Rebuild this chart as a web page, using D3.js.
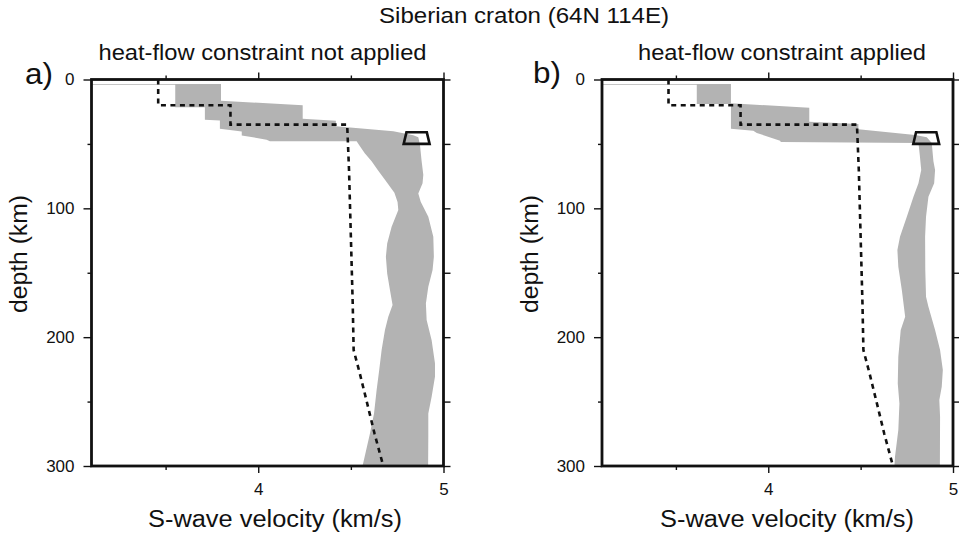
<!DOCTYPE html>
<html><head><meta charset="utf-8">
<script src="https://cdn.jsdelivr.net/npm/d3@7"></script>
<style>html,body{margin:0;padding:0;background:#fff;} svg{display:block;}</style>
</head><body><svg id="chart" width="959" height="538"></svg>
<script>
// ---------- data ----------
const mainTitle = "Siberian craton (64N 114E)";
const panelLetters = ["a)", "b)"];
const panelSubtitles = ["heat-flow constraint not applied", "heat-flow constraint applied"];
const xAxisTitle = "S-wave velocity (km/s)";
const yAxisTitle = "depth (km)";

const velDomain = [3.1, 5.0];
const depthDomain = [0, 300];
const depthLabelTicks = [0, 100, 200, 300];
const depthMinorTicks = [50, 150, 250];
const depthRightTicks = [0, 50, 100, 150, 200, 250, 300];
const velLabelTicks = [4, 5];
const velMinorTicks = [3.5, 4.5];

// reference model (dashed)
const refDepth = [0, 20, 20, 35, 35, 70, 122, 174, 210, 228, 249, 275, 300];
const refVel   = [3.46, 3.46, 3.85, 3.85, 4.48, 4.49, 4.50, 4.51, 4.515, 4.548, 4.584, 4.628, 4.675];

// constraint box
const boxDepth = [41, 41, 50, 50];
const boxVel   = [4.80, 4.91, 4.925, 4.785];

// panel a band
const bandALeftDepth = [3.5, 4.1, 4.1, 21.6, 21.6, 31.2, 31.8, 38.2, 40.3, 43.4, 46.7, 48, 48, 51.9, 57.2, 63.5, 70.3, 78, 88, 95, 101.3, 114.3, 127.2, 137.6, 150.5, 163.4, 175.1, 184.2, 194.5, 210, 225.5, 241, 259.2, 274.7, 300];
const bandALeftVel   = [3.10, 3.10, 3.552, 3.552, 3.712, 3.712, 3.793, 3.793, 3.911, 3.911, 4.045, 4.063, 4.531, 4.549, 4.575, 4.612, 4.645, 4.685, 4.735, 4.752, 4.756, 4.720, 4.696, 4.689, 4.696, 4.711, 4.725, 4.702, 4.684, 4.666, 4.653, 4.639, 4.625, 4.603, 4.563];
const bandARightDepth = [3.5, 16.5, 20.0, 30.4, 32.0, 36.3, 40.2, 43.3, 44.9, 50.6, 63.5, 73.9, 80.6, 88.4, 94.9, 106.5, 122, 137.6, 147.9, 160.9, 173.8, 186.7, 202.3, 220.3, 230.7, 246.3, 259.2, 277.3, 300];
const bandARightVel   = [3.799, 3.799, 4.240, 4.240, 4.419, 4.419, 4.729, 4.837, 4.864, 4.873, 4.882, 4.891, 4.887, 4.864, 4.877, 4.918, 4.945, 4.948, 4.941, 4.918, 4.905, 4.909, 4.936, 4.954, 4.954, 4.936, 4.918, 4.918, 4.917];

// panel b band
const bandBLeftDepth = [3.5, 4.1, 4.1, 19.0, 19.0, 38.2, 39.7, 41.5, 47.5, 48.5, 49.3, 58.4, 70.3, 80.6, 91, 106.5, 122, 132.4, 145.3, 163.4, 184.2, 194.5, 215.2, 235.9, 251.4, 272.1, 292.9, 300];
const bandBLeftVel   = [3.10, 3.10, 3.613, 3.613, 3.798, 3.798, 3.919, 3.938, 4.064, 4.068, 4.813, 4.820, 4.828, 4.813, 4.786, 4.750, 4.713, 4.699, 4.704, 4.723, 4.741, 4.717, 4.704, 4.701, 4.710, 4.704, 4.686, 4.683];
const bandBRightDepth = [3.5, 18.5, 22.0, 32.7, 34.5, 38.6, 43.1, 44.9, 49.3, 63.5, 70.3, 80.6, 91, 106.5, 122, 147.9, 168.6, 176.4, 194.5, 210, 225.5, 238.5, 248.8, 261.8, 300];
const bandBRightVel   = [3.798, 3.798, 4.222, 4.222, 4.488, 4.488, 4.795, 4.858, 4.885, 4.894, 4.903, 4.898, 4.867, 4.854, 4.849, 4.850, 4.854, 4.867, 4.903, 4.930, 4.945, 4.939, 4.926, 4.930, 4.929];

// ---------- layout ----------
const FONT = "'Liberation Sans', Arial, Helvetica, sans-serif";
const INK = "#111";
const BAND = "#b3b3b3";
const plotTop = 79.5, plotBottom = 466;

const panels = [
  { x0: 91.5, x1: 443.5, letterX: 25, letterY: 84, subX: 262.5, subLen: 328, xlabX: 275, ylabX: 27,
    leftD: bandALeftDepth, leftV: bandALeftVel, rightD: bandARightDepth, rightV: bandARightVel },
  { x0: 602, x1: 953, letterX: 533, letterY: 83, subX: 782, subLen: 288, xlabX: 787, ylabX: 538,
    leftD: bandBLeftDepth, leftV: bandBLeftVel, rightD: bandBRightDepth, rightV: bandBRightVel }
];

const svg = d3.select("#chart");
svg.append("rect").attr("width", 959).attr("height", 538).attr("fill", "#fff");

svg.append("text").text(mainTitle)
  .attr("x", 524).attr("y", 23).attr("text-anchor", "middle")
  .attr("font-family", FONT).attr("font-size", 22).attr("fill", INK)
  .attr("textLength", 290).attr("lengthAdjust", "spacingAndGlyphs");

panels.forEach((p, i) => {
  const x = d3.scaleLinear().domain(velDomain).range([p.x0, p.x1]);
  const y = d3.scaleLinear().domain(depthDomain).range([plotTop, plotBottom]);
  const g = svg.append("g");
  const clipId = "clip" + i;
  svg.append("clipPath").attr("id", clipId).append("rect")
    .attr("x", p.x0).attr("y", plotTop).attr("width", p.x1 - p.x0).attr("height", plotBottom - plotTop);

  // band polygon
  const leftPts = p.leftD.map((d, k) => [x(p.leftV[k]), y(d)]);
  const rightPts = p.rightD.map((d, k) => [x(p.rightV[k]), y(d)]).reverse();
  g.append("path")
    .attr("d", d3.line()(leftPts.concat(rightPts)) + "Z")
    .attr("fill", BAND).attr("stroke", "none")
    .attr("clip-path", `url(#${clipId})`);

  // reference model dashed
  g.append("path")
    .attr("d", d3.line()(refDepth.map((d, k) => [x(refVel[k]), y(d)])))
    .attr("fill", "none").attr("stroke", INK).attr("stroke-width", 2.6)
    .attr("stroke-dasharray", "5,4.5")
    .attr("clip-path", `url(#${clipId})`);

  // constraint box
  g.append("path")
    .attr("d", d3.line()(boxDepth.map((d, k) => [x(boxVel[k]), y(d)])) + "Z")
    .attr("fill", "none").attr("stroke", INK).attr("stroke-width", 2.6)
    .attr("stroke-linejoin", "miter");

  // axes
  const styleAxis = sel => {
    sel.select(".domain").remove();
    sel.selectAll(".tick line").attr("stroke", INK).attr("stroke-width", 1.4);
    sel.selectAll(".tick text").attr("fill", INK).attr("font-family", FONT).attr("font-size", 17);
  };
  g.append("g").attr("transform", `translate(${p.x0},0)`)
    .call(d3.axisLeft(y).tickValues(depthLabelTicks).tickSize(8).tickPadding(9).tickFormat(d3.format("d")))
    .call(styleAxis);
  g.append("g").attr("transform", `translate(${p.x0},0)`)
    .call(d3.axisLeft(y).tickValues(depthMinorTicks).tickSize(4).tickFormat(""))
    .call(styleAxis);
  g.append("g").attr("transform", `translate(${p.x1},0)`)
    .call(d3.axisRight(y).tickValues(depthRightTicks).tickSize(7).tickFormat(""))
    .call(styleAxis);
  g.append("g").attr("transform", `translate(0,${plotBottom})`)
    .call(d3.axisBottom(x).tickValues(velLabelTicks).tickSize(7).tickPadding(10).tickFormat(d3.format("d")))
    .call(styleAxis);
  g.append("g").attr("transform", `translate(0,${plotBottom})`)
    .call(d3.axisBottom(x).tickValues(velMinorTicks).tickSize(4).tickFormat(""))
    .call(styleAxis);
  g.append("g").attr("transform", `translate(0,${plotTop})`)
    .call(d3.axisTop(x).tickValues(velLabelTicks).tickSize(7).tickFormat(""))
    .call(styleAxis);
  g.append("g").attr("transform", `translate(0,${plotTop})`)
    .call(d3.axisTop(x).tickValues(velMinorTicks).tickSize(4).tickFormat(""))
    .call(styleAxis);

  // frame
  g.append("rect").attr("x", p.x0).attr("y", plotTop)
    .attr("width", p.x1 - p.x0).attr("height", plotBottom - plotTop)
    .attr("fill", "none").attr("stroke", INK).attr("stroke-width", 2.8);

  // texts
  g.append("text").text(panelLetters[i])
    .attr("x", p.letterX).attr("y", p.letterY)
    .attr("font-family", FONT).attr("font-size", 29).attr("fill", INK)
    .attr("textLength", 28).attr("lengthAdjust", "spacingAndGlyphs");
  g.append("text").text(panelSubtitles[i])
    .attr("x", p.subX).attr("y", 60).attr("text-anchor", "middle")
    .attr("font-family", FONT).attr("font-size", 22).attr("fill", INK)
    .attr("textLength", p.subLen).attr("lengthAdjust", "spacingAndGlyphs");
  g.append("text").text(xAxisTitle)
    .attr("x", p.xlabX).attr("y", 527).attr("text-anchor", "middle")
    .attr("font-family", FONT).attr("font-size", 23).attr("fill", INK)
    .attr("textLength", 254).attr("lengthAdjust", "spacingAndGlyphs");
  g.append("text").text(yAxisTitle)
    .attr("transform", `translate(${p.ylabX},254) rotate(-90)`)
    .attr("text-anchor", "middle")
    .attr("font-family", FONT).attr("font-size", 23).attr("fill", INK)
    .attr("textLength", 118).attr("lengthAdjust", "spacingAndGlyphs");
});
</script></body></html>
